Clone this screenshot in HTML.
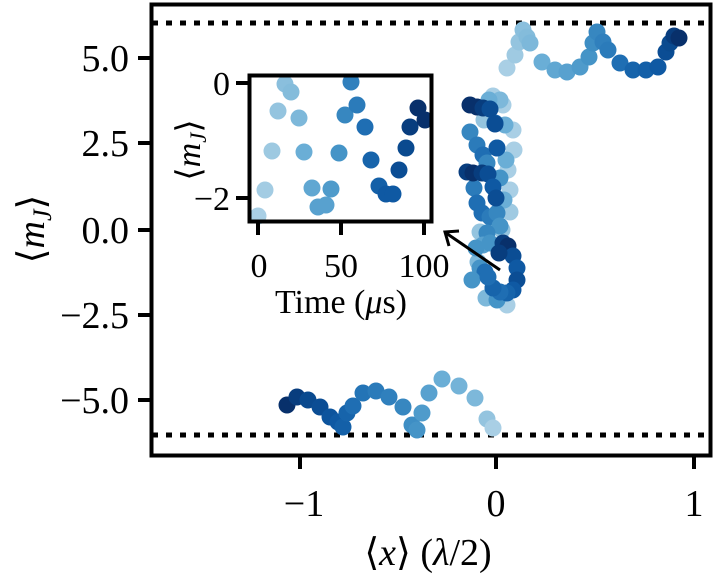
<!DOCTYPE html>
<html><head><meta charset="utf-8"><style>
html,body{margin:0;padding:0;background:#fff;}
svg{display:block;}
text{font-family:"Liberation Serif","DejaVu Serif",serif;fill:#000;}
circle{r:8.5px;}
</style></head><body>
<svg width="720" height="576" viewBox="0 0 720 576" xmlns="http://www.w3.org/2000/svg">
<line x1="152" y1="23" x2="711" y2="23" stroke="#000" stroke-width="5" stroke-dasharray="6 8"/>
<line x1="152" y1="435" x2="711" y2="435" stroke="#000" stroke-width="5" stroke-dasharray="6 8"/>
<g stroke="none">
<circle cx="287" cy="405" r="8.5" fill="#08306b"/>
<circle cx="297" cy="397" r="8.5" fill="#083d7e"/>
<circle cx="308" cy="400" r="8.5" fill="#0a4a8f"/>
<circle cx="320" cy="407" r="8.5" fill="#0b4d94"/>
<circle cx="330" cy="417" r="8.5" fill="#0d549d"/>
<circle cx="338" cy="422" r="8.5" fill="#0f59a3"/>
<circle cx="343" cy="427" r="8.5" fill="#1460a8"/>
<circle cx="347" cy="413" r="8.5" fill="#1764ab"/>
<circle cx="353" cy="406" r="8.5" fill="#1f6eb3"/>
<circle cx="363" cy="393" r="8.5" fill="#2474b6"/>
<circle cx="376" cy="391" r="8.5" fill="#2b7bba"/>
<circle cx="389" cy="397" r="8.5" fill="#3080bd"/>
<circle cx="403" cy="407" r="8.5" fill="#3787c0"/>
<circle cx="412" cy="425" r="8.5" fill="#3e8ec4"/>
<circle cx="417" cy="430" r="8.5" fill="#4594c7"/>
<circle cx="422" cy="413" r="8.5" fill="#4f9bcb"/>
<circle cx="429" cy="393" r="8.5" fill="#58a1cf"/>
<circle cx="442" cy="379" r="8.5" fill="#6aaed6"/>
<circle cx="459" cy="386" r="8.5" fill="#74b3d8"/>
<circle cx="475" cy="398" r="8.5" fill="#7db8da"/>
<circle cx="487" cy="419" r="8.5" fill="#94c4df"/>
<circle cx="493" cy="428" r="8.5" fill="#a9cfe5"/>
<circle cx="507" cy="68" r="8.5" fill="#a9cfe5"/>
<circle cx="515" cy="55" r="8.5" fill="#9fcae2"/>
<circle cx="519" cy="42" r="8.5" fill="#94c4df"/>
<circle cx="523" cy="30" r="8.5" fill="#8abfdd"/>
<circle cx="527" cy="37" r="8.5" fill="#84bcdb"/>
<circle cx="530" cy="43" r="8.5" fill="#7db8da"/>
<circle cx="542" cy="62" r="8.5" fill="#6aaed6"/>
<circle cx="555" cy="70" r="8.5" fill="#60a7d2"/>
<circle cx="567" cy="72" r="8.5" fill="#58a1cf"/>
<circle cx="580" cy="67" r="8.5" fill="#4f9bcb"/>
<circle cx="589" cy="57" r="8.5" fill="#4594c7"/>
<circle cx="593" cy="43" r="8.5" fill="#3e8ec4"/>
<circle cx="597" cy="32" r="8.5" fill="#3787c0"/>
<circle cx="603" cy="42" r="8.5" fill="#3080bd"/>
<circle cx="608" cy="50" r="8.5" fill="#2b7bba"/>
<circle cx="620" cy="63" r="8.5" fill="#1f6eb3"/>
<circle cx="633" cy="70" r="8.5" fill="#1764ab"/>
<circle cx="646" cy="70" r="8.5" fill="#1460a8"/>
<circle cx="658" cy="67" r="8.5" fill="#0f59a3"/>
<circle cx="666" cy="52" r="8.5" fill="#0b4d94"/>
<circle cx="670" cy="43" r="8.5" fill="#0a4a8f"/>
<circle cx="674" cy="36" r="8.5" fill="#083d7e"/>
<circle cx="679" cy="38" r="8.5" fill="#08306b"/>
<circle cx="493" cy="96" r="8.5" fill="#a9cfe5"/>
<circle cx="503" cy="105" r="8.5" fill="#a9cfe5"/>
<circle cx="513" cy="130" r="8.5" fill="#a9cfe5"/>
<circle cx="514" cy="150" r="8.5" fill="#a9cfe5"/>
<circle cx="508" cy="170" r="8.5" fill="#a9cfe5"/>
<circle cx="510" cy="190" r="8.5" fill="#a9cfe5"/>
<circle cx="510" cy="212" r="8.5" fill="#9fcae2"/>
<circle cx="502" cy="230" r="8.5" fill="#94c4df"/>
<circle cx="507" cy="305" r="8.5" fill="#a9cfe5"/>
<circle cx="480" cy="232" r="8.5" fill="#94c4df"/>
<circle cx="484" cy="120" r="8.5" fill="#94c4df"/>
<circle cx="478" cy="262" r="8.5" fill="#7db8da"/>
<circle cx="486" cy="298" r="8.5" fill="#7db8da"/>
<circle cx="500" cy="100" r="8.5" fill="#7db8da"/>
<circle cx="505" cy="125" r="8.5" fill="#6aaed6"/>
<circle cx="506" cy="160" r="8.5" fill="#6aaed6"/>
<circle cx="504" cy="200" r="8.5" fill="#6aaed6"/>
<circle cx="489" cy="100" r="8.5" fill="#6aaed6"/>
<circle cx="470" cy="132" r="8.5" fill="#3787c0"/>
<circle cx="477" cy="145" r="8.5" fill="#2b7bba"/>
<circle cx="483" cy="155" r="8.5" fill="#1f6eb3"/>
<circle cx="497" cy="148" r="8.5" fill="#4594c7"/>
<circle cx="495" cy="123" r="8.5" fill="#1764ab"/>
<circle cx="487" cy="163" r="8.5" fill="#3787c0"/>
<circle cx="500" cy="178" r="8.5" fill="#4594c7"/>
<circle cx="474" cy="188" r="8.5" fill="#2b7bba"/>
<circle cx="477" cy="203" r="8.5" fill="#1f6eb3"/>
<circle cx="482" cy="213" r="8.5" fill="#1f6eb3"/>
<circle cx="490" cy="217" r="8.5" fill="#2b7bba"/>
<circle cx="497" cy="213" r="8.5" fill="#3787c0"/>
<circle cx="500" cy="226" r="8.5" fill="#4594c7"/>
<circle cx="487" cy="233" r="8.5" fill="#3787c0"/>
<circle cx="483" cy="245" r="8.5" fill="#58a1cf"/>
<circle cx="476" cy="248" r="8.5" fill="#4594c7"/>
<circle cx="490" cy="243" r="8.5" fill="#4594c7"/>
<circle cx="480" cy="268" r="8.5" fill="#4594c7"/>
<circle cx="485" cy="272" r="8.5" fill="#1f6eb3"/>
<circle cx="472" cy="280" r="8.5" fill="#4594c7"/>
<circle cx="493" cy="288" r="8.5" fill="#3787c0"/>
<circle cx="497" cy="300" r="8.5" fill="#4594c7"/>
<circle cx="470" cy="105" r="8.5" fill="#08306b"/>
<circle cx="477" cy="107" r="8.5" fill="#08306b"/>
<circle cx="483" cy="108" r="8.5" fill="#083d7e"/>
<circle cx="490" cy="109" r="8.5" fill="#0b4d94"/>
<circle cx="495" cy="124" r="8.5" fill="#0b4d94"/>
<circle cx="497" cy="148" r="8.5" fill="#0f59a3"/>
<circle cx="467" cy="172" r="8.5" fill="#083d7e"/>
<circle cx="473" cy="173" r="8.5" fill="#08306b"/>
<circle cx="482" cy="173" r="8.5" fill="#083d7e"/>
<circle cx="488" cy="174" r="8.5" fill="#0b4d94"/>
<circle cx="493" cy="187" r="8.5" fill="#0f59a3"/>
<circle cx="496" cy="198" r="8.5" fill="#0b4d94"/>
<circle cx="503" cy="243" r="8.5" fill="#083d7e"/>
<circle cx="508" cy="246" r="8.5" fill="#08306b"/>
<circle cx="513" cy="256" r="8.5" fill="#0b4d94"/>
<circle cx="517" cy="268" r="8.5" fill="#0f59a3"/>
<circle cx="517" cy="280" r="8.5" fill="#0b4d94"/>
<circle cx="513" cy="290" r="8.5" fill="#0f59a3"/>
<circle cx="507" cy="293" r="8.5" fill="#1764ab"/>
<circle cx="500" cy="292" r="8.5" fill="#1f6eb3"/>
<circle cx="493" cy="288" r="8.5" fill="#1764ab"/>
<circle cx="488" cy="277" r="8.5" fill="#1f6eb3"/>
<circle cx="499" cy="253" r="8.5" fill="#083d7e"/>
</g>
<line x1="500" y1="270" x2="446" y2="233" stroke="#000" stroke-width="3"/>
<polyline points="449,246 445,232 459,231" fill="none" stroke="#000" stroke-width="3"/>
<rect x="151.5" y="4.5" width="559" height="451" fill="none" stroke="#000" stroke-width="4"/>
<g stroke="#000" stroke-width="4">
<line x1="138" y1="58" x2="151" y2="58"/>
<line x1="138" y1="143" x2="151" y2="143"/>
<line x1="138" y1="230" x2="151" y2="230"/>
<line x1="138" y1="315" x2="151" y2="315"/>
<line x1="138" y1="400" x2="151" y2="400"/>
<line x1="300" y1="456" x2="300" y2="469"/>
<line x1="496" y1="456" x2="496" y2="469"/>
<line x1="694" y1="456" x2="694" y2="469"/>
</g>
<g font-size="38" text-anchor="end">
<text x="129" y="71">5.0</text>
<text x="129" y="156">2.5</text>
<text x="129" y="243">0.0</text>
<text x="129" y="328">−2.5</text>
<text x="129" y="413">−5.0</text>
</g>
<g font-size="38" text-anchor="middle">
<text x="304" y="516">−1</text>
<text x="496" y="516">0</text>
<text x="694" y="516">1</text>
</g>
<text x="428" y="565" font-size="38" text-anchor="middle">⟨<tspan font-style="italic">x</tspan>⟩ (<tspan font-style="italic">λ</tspan>/2)</text>
<text transform="translate(44,229) rotate(-90)" font-size="38" text-anchor="middle">⟨<tspan font-style="italic">m</tspan><tspan font-style="italic" font-size="26" dy="7">J</tspan><tspan dy="-7">⟩</tspan></text>
<rect x="249" y="75" width="183" height="147" fill="#fff" stroke="none"/>
<g stroke="none">
<circle cx="258" cy="216" r="8.5" fill="#a9cfe5"/>
<circle cx="265" cy="190" r="8.5" fill="#a3cce3"/>
<circle cx="272" cy="151" r="8.5" fill="#9dc9e1"/>
<circle cx="278" cy="111" r="8.5" fill="#94c4df"/>
<circle cx="285" cy="84" r="8.5" fill="#8abfdd"/>
<circle cx="291" cy="92" r="8.5" fill="#84bcdb"/>
<circle cx="299" cy="118" r="8.5" fill="#7db8da"/>
<circle cx="304" cy="152" r="8.5" fill="#6aaed6"/>
<circle cx="312" cy="188" r="8.5" fill="#60a7d2"/>
<circle cx="318" cy="207" r="8.5" fill="#58a1cf"/>
<circle cx="326" cy="205" r="8.5" fill="#58a1cf"/>
<circle cx="331" cy="189" r="8.5" fill="#4f9bcb"/>
<circle cx="339" cy="153" r="8.5" fill="#4594c7"/>
<circle cx="345" cy="115" r="8.5" fill="#3787c0"/>
<circle cx="351" cy="82" r="8.5" fill="#3080bd"/>
<circle cx="357" cy="105" r="8.5" fill="#2b7bba"/>
<circle cx="365" cy="127" r="8.5" fill="#1f6eb3"/>
<circle cx="371" cy="160" r="8.5" fill="#1764ab"/>
<circle cx="379" cy="186" r="8.5" fill="#1460a8"/>
<circle cx="386" cy="194" r="8.5" fill="#0f59a3"/>
<circle cx="393" cy="194" r="8.5" fill="#0f59a3"/>
<circle cx="399" cy="170" r="8.5" fill="#0b4d94"/>
<circle cx="406" cy="148" r="8.5" fill="#0a4a8f"/>
<circle cx="410" cy="127" r="8.5" fill="#083d7e"/>
<circle cx="418" cy="108" r="8.5" fill="#08306b"/>
<circle cx="425" cy="120" r="8.5" fill="#08306b"/>
</g>
<rect x="432" y="70" width="8" height="60" fill="#fff"/>
<rect x="240" y="222" width="20" height="6" fill="#fff"/>
<rect x="249.5" y="75.5" width="182" height="146" fill="none" stroke="#000" stroke-width="4"/>
<g stroke="#000" stroke-width="4">
<line x1="236" y1="83" x2="248" y2="83"/>
<line x1="236" y1="198" x2="248" y2="198"/>
<line x1="258" y1="223" x2="258" y2="235"/>
<line x1="341" y1="223" x2="341" y2="235"/>
<line x1="424" y1="223" x2="424" y2="235"/>
</g>
<g font-size="34" text-anchor="end">
<text x="230" y="95">0</text>
<text x="230" y="210">−2</text>
</g>
<g font-size="34" text-anchor="middle">
<text x="259" y="277">0</text>
<text x="341" y="277">50</text>
<text x="424" y="277">100</text>
</g>
<text x="341" y="313" font-size="34" text-anchor="middle">Time (<tspan font-style="italic">μ</tspan>s)</text>
<text transform="translate(200,150) rotate(-90)" font-size="34" text-anchor="middle">⟨<tspan font-style="italic">m</tspan><tspan font-style="italic" font-size="23" dy="6">J</tspan><tspan dy="-6">⟩</tspan></text>
</svg>
</body></html>
